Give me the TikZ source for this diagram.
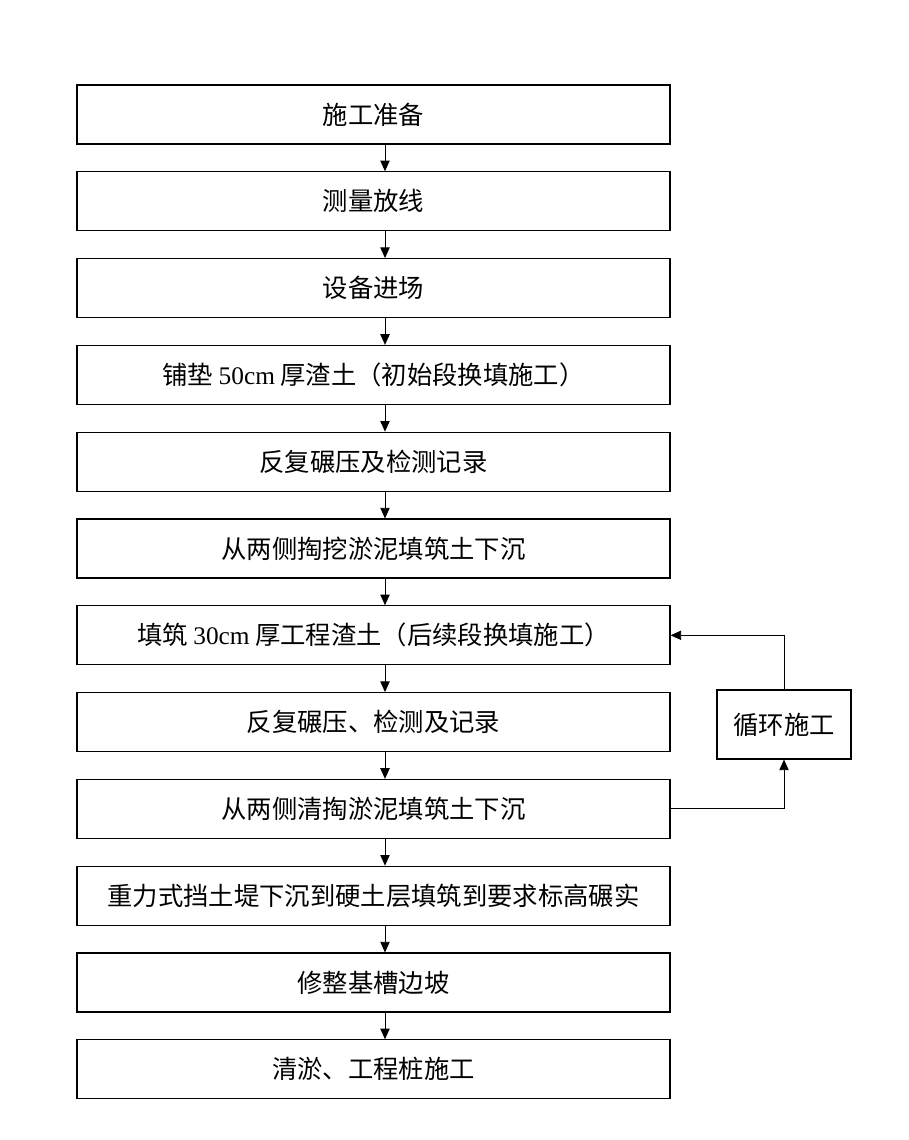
\documentclass[tikz,border=0pt]{standalone}
\usepackage{fontspec}
\setmainfont{Liberation Serif}
\newfontfamily\cjk{Noto Sans CJK SC}
\usetikzlibrary{arrows.meta}
\tikzset{
  stepbox/.style={draw, line width=0.8pt, minimum width=593*0.75pt, minimum height=59*0.75pt, inner sep=0pt, font=\fontsize{19}{23}\selectfont\cjk},
  loopbox/.style={draw, line width=0.8pt, minimum width=134*0.75pt, minimum height=69*0.75pt, inner sep=0pt, font=\fontsize{19}{23}\selectfont\cjk},
  arr/.style={line width=0.7pt, -{Triangle[length=8pt,width=7pt]}}
}
\begin{document}
\begin{tikzpicture}[x=0.75pt,y=-0.75pt]
\useasboundingbox (0,0) rectangle (908,1140);
\node[stepbox] (b1) at (373.5,114.5) {施工准备};
\node[stepbox] (b2) at (373.5,201.3) {测量放线};
\node[stepbox] (b3) at (373.5,288.1) {设备进场};
\node[stepbox] (b4) at (373.5,374.9) {铺垫 {\rmfamily 50cm} 厚渣土（初始段换填施工）};
\node[stepbox] (b5) at (373.5,461.7) {反复碾压及检测记录};
\node[stepbox] (b6) at (373.5,548.5) {从两侧掏挖淤泥填筑土下沉};
\node[stepbox] (b7) at (373.5,635.3) {填筑 {\rmfamily 30cm} 厚工程渣土（后续段换填施工）};
\node[stepbox] (b8) at (373.5,722.1) {反复碾压、检测及记录};
\node[stepbox] (b9) at (373.5,808.9) {从两侧清掏淤泥填筑土下沉};
\node[stepbox] (b10) at (373.5,895.7) {重力式挡土堤下沉到硬土层填筑到要求标高碾实};
\node[stepbox] (b11) at (373.5,982.5) {修整基槽边坡};
\node[stepbox] (b12) at (373.5,1069.3) {清淤、工程桩施工};
\node[loopbox] (loop) at (784,724.5) {循环施工};
\coordinate (ax) at (385,0);
\foreach \a/\b in {b1/b2,b2/b3,b3/b4,b4/b5,b5/b6,b6/b7,b7/b8,b8/b9,b9/b10,b10/b11,b11/b12}
  \draw[arr] (\a.south -| ax) -- (\b.north -| ax);
\draw[arr] (b9.east) -| (loop.south);
\draw[arr] (loop.north) |- (b7.east);
\end{tikzpicture}
\end{document}
